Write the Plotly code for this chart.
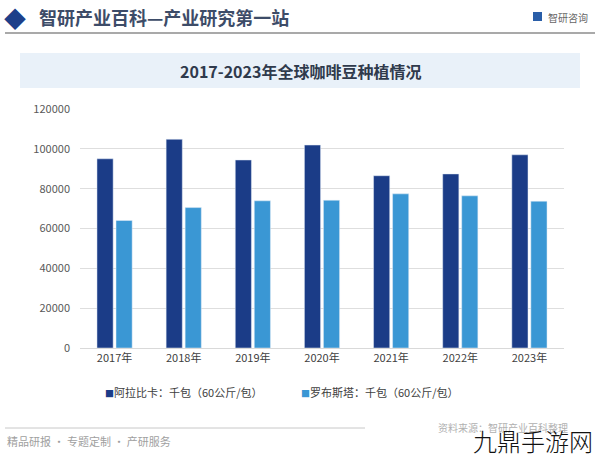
import plotly.graph_objects as go

years = ["2017年", "2018年", "2019年", "2020年", "2021年", "2022年", "2023年"]
arabica = [95000, 104800, 94400, 101900, 86500, 87400, 97000]
robusta = [64000, 70500, 73900, 74200, 77400, 76400, 73700]
series_names = ["阿拉比卡：千包（60公斤/包）", "罗布斯塔：千包（60公斤/包）"]
series_colors = ["#1b3c87", "#3a97d4"]
y_ticks = [0, 20000, 40000, 60000, 80000, 100000, 120000]

W, H = 600, 458
L, R, T, B = 80, 564, 109, 348

def px(x):
    return (x - L) / (R - L)

def py(y):
    return (B - y) / (B - T)

FONT = "Noto Sans CJK SC, Noto Sans, sans-serif"

fig = go.Figure()
fig.add_trace(go.Bar(x=years, y=arabica, name=series_names[0], marker_color=series_colors[0], showlegend=False))
fig.add_trace(go.Bar(x=years, y=robusta, name=series_names[1], marker_color=series_colors[1], showlegend=False))

shapes = [
    dict(type="line", xref="paper", yref="paper", x0=px(5), x1=px(595), y0=py(33), y1=py(33),
         line=dict(color="#555555", width=1.2)),
    dict(type="rect", xref="paper", yref="paper", x0=px(20), x1=px(580), y0=py(88), y1=py(53),
         fillcolor="#e9f1f9", line=dict(width=0), layer="below"),
    dict(type="line", xref="paper", yref="paper", x0=px(5), x1=px(365), y0=py(428), y1=py(428),
         line=dict(color="#c8c8c8", width=1)),
    dict(type="rect", xref="paper", yref="paper", x0=px(533), x1=px(542), y0=py(21), y1=py(12),
         fillcolor="#2a5ea8", line=dict(width=0)),
]

legend_x = [103, 299]
annotations = [
    dict(text="◆", x=px(15), y=py(17), xref="paper", yref="paper", showarrow=False,
         font=dict(size=22, color="#1e3f8a", family=FONT), xanchor="center", yanchor="middle"),
    dict(text="<b>智研产业百科—产业研究第一站</b>", x=px(37), y=py(17), xref="paper", yref="paper",
         showarrow=False, font=dict(size=18, color="#3d4c68", family=FONT), xanchor="left", yanchor="middle"),
    dict(text="智研咨询", x=px(546), y=py(17), xref="paper", yref="paper", showarrow=False,
         font=dict(size=10, color="#666666", family=FONT), xanchor="left", yanchor="middle"),
    dict(text="<b>2017-2023年全球咖啡豆种植情况</b>", x=px(300), y=py(71), xref="paper", yref="paper",
         showarrow=False, font=dict(size=16, color="#2f3a4c", family=FONT), xanchor="center", yanchor="middle"),
    dict(text="精品研报 · 专题定制 · 产研服务", x=px(5), y=py(441), xref="paper", yref="paper",
         showarrow=False, font=dict(size=11, color="#a0a0a0", family=FONT), xanchor="left", yanchor="middle"),
    dict(text="资料来源：智研产业百科整理", x=px(436), y=py(427), xref="paper", yref="paper",
         showarrow=False, font=dict(size=10, color="#b0b0b0", family=FONT), xanchor="left", yanchor="middle"),
    dict(text="九鼎手游网", x=px(594), y=py(440), xref="paper", yref="paper",
         showarrow=False, font=dict(size=24, color="#111111", family="Noto Sans CJK SC Light, Noto Sans CJK SC, sans-serif"),
         xanchor="right", yanchor="middle", borderpad=0),
]
for i in range(2):
    annotations.append(dict(
        text=f"<span style='color:{series_colors[i]};font-size:9px'>■</span>{series_names[i]}",
        x=px(legend_x[i]), y=py(392), xref="paper", yref="paper", showarrow=False,
        font=dict(size=11, color="#404040", family=FONT), xanchor="left", yanchor="middle"))

fig.update_layout(
    width=W, height=H,
    margin=dict(l=L, r=W - R, t=T, b=H - B),
    paper_bgcolor="white", plot_bgcolor="white",
    barmode="group", bargap=0.45, bargroupgap=0.15,
    font=dict(family=FONT, size=11, color="#595959"),
    xaxis=dict(showgrid=False, showline=True, linecolor="#d9d9d9", ticks="",
               tickfont=dict(size=11, color="#404040")),
    yaxis=dict(range=[0, 120000], tickvals=y_ticks, ticktext=[str(v) for v in y_ticks],
               showgrid=True, gridcolor="#dedede", gridwidth=1, zeroline=False,
               tickfont=dict(size=11, color="#595959"), ticks="", ticklabelstandoff=9),
    showlegend=False,
    shapes=shapes, annotations=annotations,
)

fig.write_html("out.html")
